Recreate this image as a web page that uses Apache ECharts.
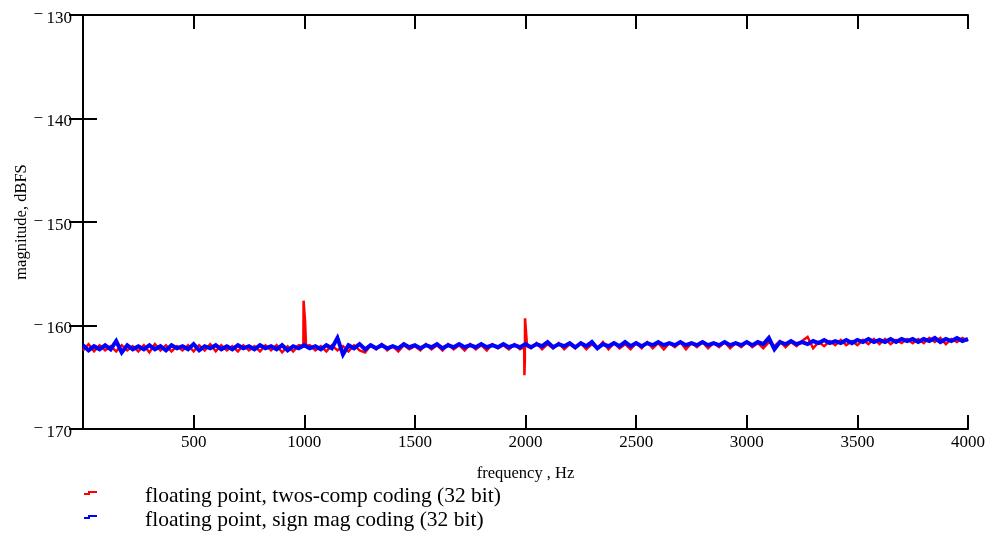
<!DOCTYPE html>
<html>
<head>
<meta charset="utf-8">
<script src="https://cdn.jsdelivr.net/npm/echarts@6/dist/echarts.min.js"></script>
<style>
  html, body { margin: 0; padding: 0; background: #fff; }
  #chart { width: 991px; height: 535px; }
</style>
</head>
<body>
<div id="chart"></div>
<script>
// Frequency grid (Hz) shared by both spectra, 25 Hz spacing from 0 to 4000
const freqStep = 25;
const freqGrid = [];
for (let f = 0; f <= 4000; f += freqStep) freqGrid.push(f);

// Magnitude (dBFS), floating point with twos-complement coding
const twosCompMag = [
  -162.4, -161.8, -162.5, -161.9, -162.4, -162.0, -162.5, -161.9, -162.4, -162.0,
  -162.5, -161.9, -162.6, -161.8, -162.4, -161.9, -162.5, -162.0, -162.4, -161.9,
  -162.5, -161.9, -162.4, -161.8, -162.5, -161.9, -162.4, -162.0, -162.5, -161.9,
  -162.4, -162.0, -162.5, -161.9, -162.4, -161.9, -162.6, -162.0, -162.5, -161.9,
  -157.6, -161.9, -162.4, -162.0, -162.5, -161.9, -162.4, -162.0, -162.5, -161.9,
  -162.4, -162.6, -161.9, -162.3, -161.8, -162.4, -162.0, -162.5, -161.9, -162.3,
  -162.0, -162.4, -161.8, -162.3, -161.9, -162.4, -161.8, -162.3, -161.9, -162.4,
  -161.8, -162.3, -161.9, -162.4, -161.8, -162.2, -161.9, -162.3, -161.8, -162.3,
  -159.3, -162.2, -161.7, -162.3, -161.8, -162.2, -161.7, -162.3, -161.8, -162.2,
  -161.7, -162.3, -161.8, -162.2, -161.6, -162.3, -161.7, -162.2, -161.8, -162.3,
  -161.7, -162.2, -161.6, -162.2, -161.7, -162.3, -161.7, -162.1, -161.6, -162.3,
  -161.7, -162.1, -161.6, -162.2, -161.7, -162.1, -161.6, -162.2, -161.7, -162.1,
  -161.6, -162.1, -161.7, -162.2, -161.6, -162.0, -161.5, -162.1, -161.6, -162.0,
  -161.5, -161.1, -162.2, -161.6, -162.0, -161.5, -161.9, -161.4, -161.9, -161.5,
  -161.9, -161.4, -161.8, -161.3, -161.8, -161.3, -161.8, -161.4, -161.7, -161.3,
  -161.7, -161.3, -161.7, -161.2, -161.6, -161.2, -161.8, -161.3, -161.6, -161.2,
  -161.5
];
// Narrow samples shaping the tones at 1000 Hz and 2000 Hz
const twosCompTones = [
  [996, -162.0], [997, -157.6], [1003, -157.6], [1004, -159.7], [1007, -159.7], [1008, -162.0],
  [1994, -162.1], [1995, -164.8], [1997, -163.5], [1998, -159.3], [2006, -159.3], [2007, -162.0]
];

// Magnitude (dBFS), floating point with sign-magnitude coding
const signMagMag = [
  -161.9, -162.4, -162.0, -162.3, -161.9, -162.3, -161.5, -162.6, -161.9, -162.3,
  -162.0, -162.3, -161.9, -162.3, -162.0, -162.4, -161.9, -162.2, -162.0, -162.3,
  -161.8, -162.4, -162.0, -162.2, -161.9, -162.3, -162.0, -162.3, -161.9, -162.2,
  -162.0, -162.3, -161.9, -162.2, -162.0, -162.3, -161.9, -162.4, -162.0, -162.2,
  -161.9, -162.2, -162.0, -162.3, -161.9, -162.2, -161.2, -162.8, -161.9, -162.2,
  -161.8, -162.3, -161.9, -162.2, -161.9, -162.2, -162.0, -162.2, -161.8, -162.1,
  -161.9, -162.2, -161.9, -162.1, -161.8, -162.2, -161.9, -162.1, -161.8, -162.1,
  -161.9, -162.1, -161.8, -162.1, -161.9, -162.1, -161.8, -162.1, -161.9, -162.1,
  -161.8, -162.1, -161.8, -162.0, -161.6, -162.1, -161.8, -162.0, -161.7, -162.1,
  -161.7, -162.0, -161.6, -162.2, -161.8, -162.0, -161.7, -162.0, -161.6, -162.0,
  -161.7, -162.0, -161.7, -161.9, -161.6, -161.9, -161.7, -161.9, -161.6, -161.9,
  -161.7, -161.9, -161.6, -161.9, -161.7, -161.9, -161.6, -161.9, -161.7, -161.9,
  -161.6, -161.9, -161.6, -161.8, -161.2, -162.3, -161.6, -161.8, -161.5, -161.8,
  -161.6, -161.8, -161.5, -161.7, -161.4, -161.7, -161.5, -161.7, -161.4, -161.7,
  -161.4, -161.6, -161.3, -161.6, -161.4, -161.6, -161.3, -161.6, -161.3, -161.5,
  -161.3, -161.6, -161.3, -161.5, -161.2, -161.6, -161.3, -161.5, -161.2, -161.5,
  -161.3
];

const seriesNames = [
  'floating point, twos-comp coding (32 bit)',
  'floating point, sign mag coding (32 bit)'
];
const seriesColors = ['#ff0000', '#0000ff'];

const xTicks = [500, 1000, 1500, 2000, 2500, 3000, 3500, 4000];
const yTicks = [-170, -160, -150, -140, -130];

function pairs(freqs, mags, extra) {
  const out = freqs.map((f, i) => [f, mags[i]]);
  (extra || []).forEach(p => out.push(p));
  out.sort((a, b) => a[0] - b[0]);
  return out;
}

const serif = '"Liberation Serif", "DejaVu Serif", serif';
const frame = { show: true, lineStyle: { color: '#000', width: 2 } };
const ticks = { show: true, inside: true, length: 14, lineStyle: { color: '#000', width: 2 } };

const chart = echarts.init(document.getElementById('chart'), null, { renderer: 'canvas' });

chart.setOption({
  animation: false,
  backgroundColor: '#ffffff',
  grid: { left: 83, right: 23, top: 15, bottom: 106, containLabel: false, outerBoundsMode: 'none' },
  xAxis: [
    {
      type: 'value', min: 0, max: 4000, interval: 500, position: 'bottom',
      name: 'frequency , Hz', nameLocation: 'middle', nameGap: 36, nameMoveOverlap: false,
      nameTextStyle: { fontFamily: serif, fontSize: 16.5, color: '#000' },
      axisLine: frame, axisTick: ticks, splitLine: { show: false },
      axisLabel: {
        margin: 5, fontFamily: serif, fontSize: 17, color: '#000',
        formatter: v => (xTicks.indexOf(v) >= 0 ? String(v) : '')
      }
    },
    {
      type: 'value', min: 0, max: 4000, interval: 500, position: 'top',
      axisLine: frame, axisTick: ticks, splitLine: { show: false },
      axisLabel: { show: false }
    }
  ],
  yAxis: [
    {
      type: 'value', min: -170, max: -130, interval: 10, position: 'left',
      name: 'magnitude, dBFS', nameLocation: 'middle', nameGap: 53, nameRotate: 90, nameMoveOverlap: false,
      nameTextStyle: { fontFamily: serif, fontSize: 16.5, color: '#000' },
      axisLine: frame, axisTick: ticks, splitLine: { show: false },
      axisLabel: {
        margin: 11, fontFamily: serif, fontSize: 17, color: '#000',
        formatter: v => {
          if (yTicks.indexOf(v) < 0) return '';
          return v < 0 ? '{m|\u2212}{n|\u2009' + Math.abs(v) + '}' : '{n|' + v + '}';
        },
        rich: {
          n: { fontFamily: serif, fontSize: 17, lineHeight: 20, padding: [7, 0, 0, 0], color: '#000' },
          m: { fontFamily: serif, fontSize: 17, lineHeight: 27, verticalAlign: 'middle', color: '#000' }
        }
      }
    },
    {
      type: 'value', min: -170, max: -130, interval: 10, position: 'right',
      axisLine: frame, axisTick: ticks, splitLine: { show: false },
      axisLabel: { show: false }
    }
  ],
  series: [
    {
      name: seriesNames[0], type: 'line', showSymbol: false,
      data: pairs(freqGrid, twosCompMag, twosCompTones),
      lineStyle: { color: seriesColors[0], width: 2.5, join: 'miter' }, itemStyle: { color: seriesColors[0] }
    },
    {
      name: seriesNames[1], type: 'line', showSymbol: false,
      data: pairs(freqGrid, signMagMag),
      lineStyle: { color: seriesColors[1], width: 4, join: 'miter', miterLimit: 3 }, itemStyle: { color: seriesColors[1] }
    }
  ],
  graphic: [0, 1].flatMap(i => [
    {
      type: 'polyline', silent: true,
      shape: { points: [[84, 494 + i * 24], [89, 494 + i * 24], [89, 492 + i * 24], [97, 492 + i * 24]] },
      style: { stroke: seriesColors[i], lineWidth: 2, fill: null }
    },
    {
      type: 'text', x: 145, y: 496 + i * 24, silent: true,
      style: { text: seriesNames[i], fontFamily: serif, fontSize: 21.5, fill: '#000', verticalAlign: 'middle' }
    }
  ])
});
</script>
</body>
</html>
